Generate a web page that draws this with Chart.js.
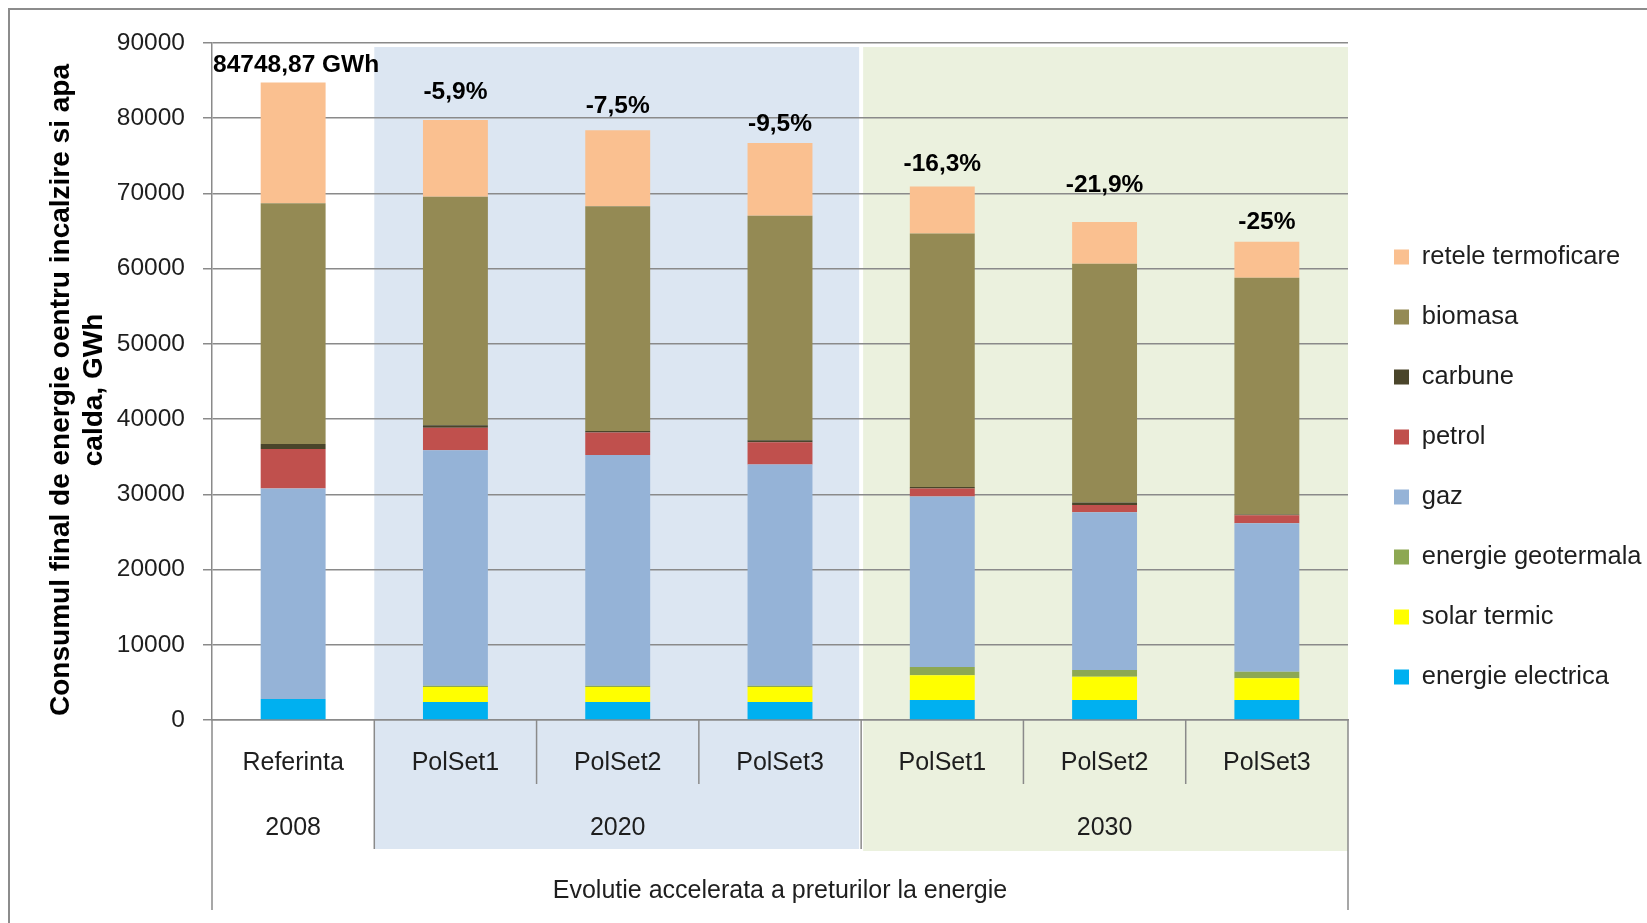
<!DOCTYPE html>
<html>
<head>
<meta charset="utf-8">
<script src="https://cdn.jsdelivr.net/npm/chart.js@4.4.1/dist/chart.umd.min.js"></script>
<style>
html,body{margin:0;padding:0;background:#fff;overflow:hidden}
#wrap{position:relative;width:1647px;height:923px}
canvas{display:block}
</style>
</head>
<body>
<div id="wrap"><canvas id="c" width="1647" height="923"></canvas></div>
<script>
// ---------------- DATA ----------------
const categories = ['Referinta','PolSet1','PolSet2','PolSet3','PolSet1','PolSet2','PolSet3'];
const years = ['2008','2020','2030'];
const yearSpans = [1, 3, 3];
const scenarioTitle = 'Evolutie accelerata a preturilor la energie';
const yTitle = ['Consumul final de energie oentru incalzire si apa', 'calda, GWh'];
const yTicks = [0,10000,20000,30000,40000,50000,60000,70000,80000,90000];

const energieElectrica  = [2800, 2400, 2400, 2400, 2660, 2660, 2660];
const solarTermic       = [0,    2000, 2000, 2000, 3280, 3100, 2880];
const energieGeotermala = [0,    150,  150,  150,  1110, 890,  890];
const gaz               = [27960,31320,30690,29400,22650,20970,19730];
const petrol            = [5280, 2970, 2970, 2980, 1060, 970,  1060];
const carbune           = [660,  360,  220,  260,  220,  310,  100];
const biomasa           = [32010,30360,29880,29830,33690,31740,31460];
const reteleTermoficare = [16039,10199,10083,9678, 6265, 5549, 4782];

const barLabels = ['84748,87 GWh','-5,9%','-7,5%','-9,5%','-16,3%','-21,9%','-25%'];

// ---------------- STYLE ----------------
const FONT = "'Liberation Sans', Arial, sans-serif";
const GRID = '#8a8a8a';
const TEXT = '#1e1e1e';
const labelLift = [17, 28, 24, 19, 22, 37, 20];

const series = [
  {label:'energie electrica',  data: energieElectrica,  color:'#00B0F0'},
  {label:'solar termic',       data: solarTermic,       color:'#FFFF00'},
  {label:'energie geotermala', data: energieGeotermala, color:'#8DA853'},
  {label:'gaz',                data: gaz,               color:'#95B3D7'},
  {label:'petrol',             data: petrol,            color:'#C0504D'},
  {label:'carbune',            data: carbune,           color:'#4A452A'},
  {label:'biomasa',            data: biomasa,           color:'#948A54'},
  {label:'retele termoficare', data: reteleTermoficare, color:'#FAC090'}
];

// legend width -> right padding so plot ends at x=1348
const LEG_FONT = 25.5, LEG_BOX = 15, LEG_PAD = 34.5;
const mctx = document.createElement('canvas').getContext('2d');
mctx.font = LEG_FONT + 'px ' + FONT;
const maxText = Math.max(...series.map(s => mctx.measureText(s.label).width));
const legendWidth = LEG_PAD + LEG_BOX + LEG_FONT/2 + maxText + 10;
const padRight = Math.max(0, (1647 - 1348) - legendWidth);

Chart.defaults.font.family = FONT;
Chart.defaults.color = TEXT;

const deco = {
  id: 'deco',
  afterLayout(chart) {
    const lg = chart.legend;
    const dx = 1394 - LEG_PAD - lg.left;
    lg.left += dx; lg.right += dx;
    lg.top -= 16; lg.bottom -= 16;
  },
  beforeDraw(chart) {
    const {ctx, chartArea:{left,right,top,bottom}} = chart;
    const cw = (right - left) / categories.length;
    const b = i => left + i * cw;
    ctx.save();
    ctx.fillStyle = '#DCE6F2';
    ctx.fillRect(b(1), top + 4, b(4) - 2 - b(1), bottom + 129 - (top + 4));
    ctx.fillStyle = '#EBF1DE';
    ctx.fillRect(b(4) + 2, top + 4, b(7) - (b(4) + 2), bottom + 131 - (top + 4));
    ctx.restore();
  },
  afterDraw(chart) {
    const {ctx, chartArea:{left,right,top,bottom}, scales:{x, y}} = chart;
    const cw = (right - left) / categories.length;
    const b = i => left + i * cw;
    ctx.save();
    // separators
    const groupEdges = new Set();
    let acc = 0;
    yearSpans.forEach(s => { acc += s; groupEdges.add(acc); });
    ctx.strokeStyle = GRID;
    ctx.lineWidth = 1.5;
    for (let i = 0; i <= categories.length; i++) {
      let len = 64;
      if (i === 0 || i === categories.length) len = 190;
      else if (groupEdges.has(i)) len = 129;
      ctx.beginPath();
      ctx.moveTo(b(i), bottom);
      ctx.lineTo(b(i), bottom + len);
      ctx.stroke();
    }
    // x labels
    ctx.fillStyle = TEXT;
    ctx.textAlign = 'center';
    ctx.textBaseline = 'middle';
    ctx.font = '25px ' + FONT;
    categories.forEach((c, i) => ctx.fillText(c, x.getPixelForValue(i), bottom + 43));
    acc = 0;
    years.forEach((yr, k) => {
      const cx = (b(acc) + b(acc + yearSpans[k])) / 2;
      ctx.fillText(yr, cx, bottom + 108);
      acc += yearSpans[k];
    });
    ctx.fillText(scenarioTitle, (left + right) / 2, bottom + 171);
    // bar annotations
    ctx.font = 'bold 24.5px ' + FONT;
    ctx.fillStyle = '#000';
    categories.forEach((c, i) => {
      const total = series.reduce((s, d) => s + d.data[i], 0);
      ctx.fillText(barLabels[i], x.getPixelForValue(i) + (i === 0 ? 3 : 0), y.getPixelForValue(total) - labelLift[i]);
    });
    // y title
    ctx.font = 'bold 28px ' + FONT;
    ctx.fillStyle = '#000';
    [61, 94].forEach((px, k) => {
      ctx.save();
      ctx.translate(px, 390);
      ctx.rotate(-Math.PI / 2);
      ctx.fillText(yTitle[k], 0, 0);
      ctx.restore();
    });
    // outer frame
    ctx.strokeStyle = '#8c8c8c';
    ctx.lineWidth = 2;
    ctx.beginPath();
    ctx.moveTo(9, 923);
    ctx.lineTo(9, 9);
    ctx.lineTo(1647, 9);
    ctx.stroke();
    ctx.restore();
  }
};

new Chart(document.getElementById('c'), {
  type: 'bar',
  data: {
    labels: categories,
    datasets: series.map(s => ({
      label: s.label,
      data: s.data,
      backgroundColor: s.color,
      borderWidth: 0,
      categoryPercentage: 1,
      barPercentage: 0.4
    }))
  },
  options: {
    responsive: false,
    animation: false,
    devicePixelRatio: 1,
    layout: { autoPadding: false, padding: { left: 0, top: 43, bottom: 0, right: padRight } },
    plugins: {
      legend: {
        position: 'right',
        align: 'center',
        reverse: true,
        labels: {
          boxWidth: LEG_BOX,
          boxHeight: LEG_BOX,
          padding: LEG_PAD,
          color: TEXT,
          font: { size: LEG_FONT, family: FONT }
        }
      },
      tooltip: { enabled: false },
      title: { display: false }
    },
    scales: {
      x: {
        stacked: true,
        grid: { display: false },
        border: { display: true, color: GRID, width: 1.5 },
        ticks: { display: false },
        afterFit: s => { s.height = 203; }
      },
      y: {
        stacked: true,
        min: 0,
        max: 90000,
        afterBuildTicks: s => { s.ticks = yTicks.map(v => ({ value: v })); },
        ticks: { font: { size: 24.5 }, color: TEXT, padding: 18, callback: v => String(v) },
        grid: { color: GRID, lineWidth: 1.5, tickLength: 9 },
        border: { display: true, color: GRID, width: 1.5 },
        afterFit: s => { s.width = 212; }
      }
    }
  },
  plugins: [deco]
});
</script>
</body>
</html>
